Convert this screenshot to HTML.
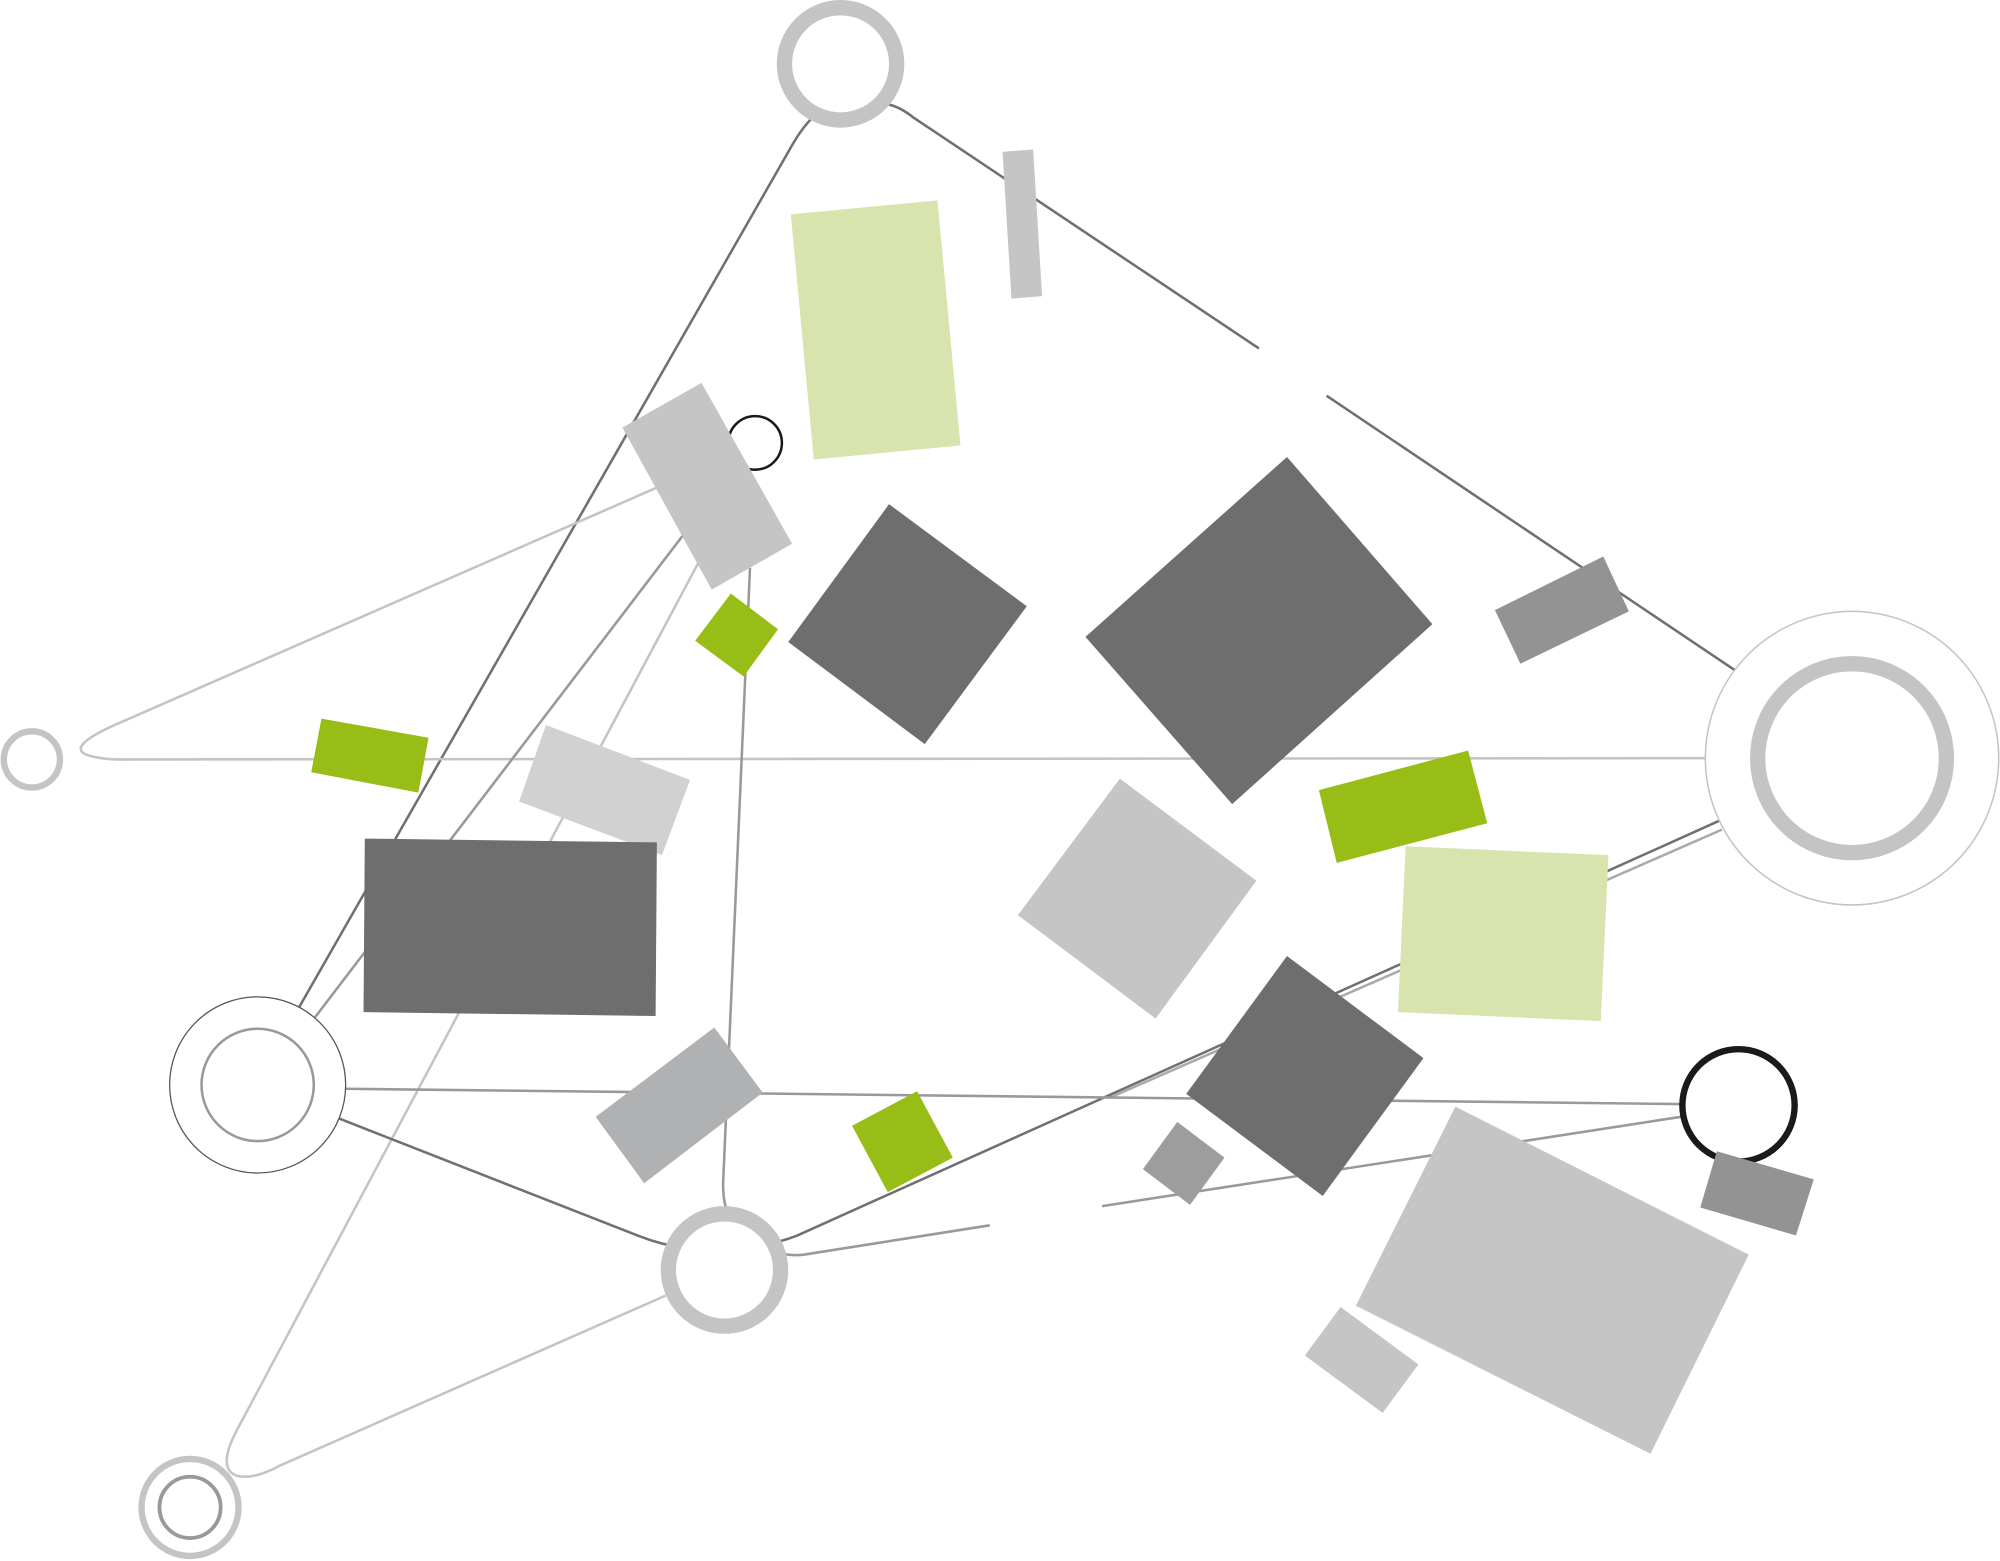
<!DOCTYPE html>
<html><head><meta charset="utf-8"><style>html,body{margin:0;padding:0;background:#fff}svg{display:block}</style></head>
<body>
<svg width="2000" height="1561" viewBox="0 0 1568 1223" preserveAspectRatio="none" xmlns="http://www.w3.org/2000/svg">
<g fill="none" stroke-linecap="butt">
<path d="M234,790 L622,112 Q640,82 659,80" stroke="#707070" stroke-width="2"/>
<path d="M697,82 Q706,84 716,92 L987,273" stroke="#707070" stroke-width="2"/>
<path d="M1040,310 L1360,525" stroke="#707070" stroke-width="2"/>
<path d="M515,382 L90,568 Q50,586 70,592 Q80,595 95,595 L1337,594" stroke="#c4c4c4" stroke-width="2"/>
<path d="M535,420 L247,797" stroke="#999" stroke-width="2"/>
<path d="M548,440 L186,1120 Q170,1150 185,1156 Q198,1160 220,1148 L522,1015" stroke="#c4c4c4" stroke-width="2"/>
<path d="M588,445 L567,925 Q566,945 575,960" stroke="#999" stroke-width="2"/>
<path d="M1350,650 L870,860" stroke="#aaa" stroke-width="2"/>
<path d="M1348,643 L625,968 Q612,973 600,975" stroke="#707070" stroke-width="2"/>
<path d="M270,853 L1318,865" stroke="#999" stroke-width="2"/>
<path d="M265,876 L500,968 Q520,976 540,978" stroke="#707070" stroke-width="2"/>
<path d="M1318,875 L864,945" stroke="#999" stroke-width="2"/>
<path d="M776,960 L630,983 Q620,984 612,982" stroke="#999" stroke-width="2"/>
</g>
<polygon points="786,119 810,117 817,232 793,234" fill="#c4c5c4"/>
<polygon points="620,168 735,157 753,349 638,360" fill="#d8e4ae"/>
<circle cx="592" cy="347" r="21" fill="none" stroke="#1a1a1a" stroke-width="2"/>
<polygon points="488,335 550,300 621,426 558,462" fill="#c4c5c4"/>
<polygon points="545,502 573,465 610,493 583,530" fill="#99bd17"/>
<polygon points="618,503 697,395 805,475 725,583" fill="#6e6e6e"/>
<polygon points="851,499 1009,358 1123,489 966,630" fill="#6e6e6e"/>
<polygon points="1172,478 1257,436 1277,479 1192,520" fill="#939393"/>
<polygon points="252,563 336,578 328,621 244,605" fill="#99bd17"/>
<polygon points="428,568 541,611 519,670 407,628" fill="#d0d1d0"/>
<polygon points="1034,619 1151,588 1166,645 1048,676" fill="#99bd17"/>
<polygon points="798,717 878,610 985,690 906,798" fill="#c4c5c4"/>
<polygon points="1102,663 1261,670 1255,800 1096,793" fill="#d8e4ae"/>
<polygon points="286,657 515,660 514,796 285,793" fill="#6e6e6e"/>
<polygon points="467,875 560,805 598,856 505,927" fill="#b0b1b2"/>
<polygon points="668,882 719,855 747,907 696,934" fill="#99bd17"/>
<polygon points="930,857 1009,749 1116,829 1037,937" fill="#6e6e6e"/>
<polygon points="896,916 923,879 960,907 933,944" fill="#9d9d9d"/>
<polygon points="1063,1023 1141,867 1371,983 1294,1139" fill="#c4c5c4"/>
<polygon points="1023,1062 1051,1024 1112,1069 1084,1107" fill="#c4c5c4"/>
<circle cx="1363" cy="866" r="44" fill="#fff" stroke="#1a1a1a" stroke-width="5"/>
<polygon points="1346,902 1422,924 1408,968 1333,946" fill="#939393"/>
<circle cx="659" cy="50" r="44" fill="#fff" stroke="#c4c4c4" stroke-width="12"/>
<circle cx="1452" cy="594" r="115" fill="#fff" stroke="#c4c4c4" stroke-width="1.2"/>
<circle cx="1452" cy="594" r="74" fill="#fff" stroke="#c4c4c4" stroke-width="12"/>
<circle cx="25" cy="595" r="22" fill="#fff" stroke="#c4c4c4" stroke-width="5"/>
<circle cx="202" cy="850" r="69" fill="#fff" stroke="#555" stroke-width="1"/>
<circle cx="202" cy="850" r="44" fill="#fff" stroke="#999" stroke-width="2"/>
<circle cx="568" cy="995" r="44" fill="#fff" stroke="#c4c4c4" stroke-width="12"/>
<circle cx="149" cy="1181" r="38" fill="#fff" stroke="#c4c4c4" stroke-width="5"/>
<circle cx="149" cy="1181" r="24" fill="#fff" stroke="#999" stroke-width="3"/>
</svg>
</body></html>
